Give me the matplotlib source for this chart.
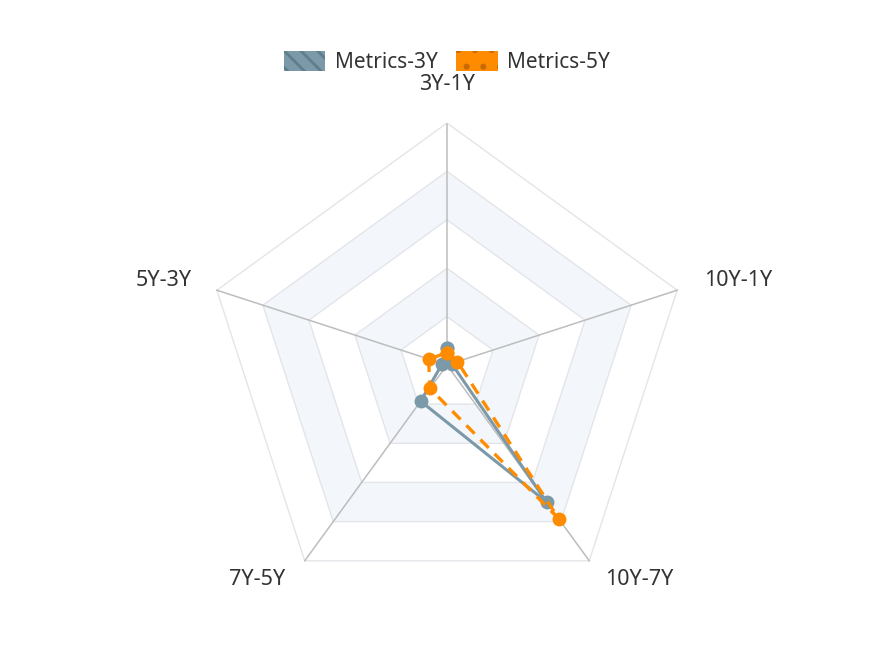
import numpy as np
import matplotlib
matplotlib.use("Agg")
from matplotlib import pyplot as plt
from matplotlib.patches import Polygon, Patch

# data
indicators = ["3Y-1Y", "10Y-1Y", "10Y-7Y", "7Y-5Y", "5Y-3Y"]
metrics_3y = [0.07, 0.02, 0.70, 0.185, 0.02]
metrics_5y = [0.05, 0.045, 0.785, 0.12, 0.08]
series_names = ["Metrics-3Y", "Metrics-5Y"]
max_val = 1.0
n_rings = 5

plt.rcParams['font.family'] = ['Noto Sans', 'DejaVu Sans']

fig = plt.figure(figsize=(8.74, 6.63), dpi=100)
# axes box so the radar centre sits at (447, 365) px with radius 242 px
ax = fig.add_axes([205 / 874, (663 - 607) / 663, 484 / 874, 484 / 663])
ax.set_xlim(-1, 1)
ax.set_ylim(-1, 1)
ax.set_aspect("equal")
ax.axis("off")

n = len(indicators)
angles = np.pi / 2 - 2 * np.pi * np.arange(n) / n   # clockwise from top
dx, dy = np.cos(angles), np.sin(angles)

# split areas (alternating bands) and split lines
band_colors = ["#ffffff", "#f3f6fa"]
for k in range(n_rings, 0, -1):
    r = k / n_rings
    col = band_colors[1] if k in (2, 4) else band_colors[0]
    ax.add_patch(Polygon(np.column_stack([r * dx, r * dy]), closed=True,
                         facecolor=col, edgecolor="#e3e5ea", lw=1.0, zorder=1))

# axis lines
for i in range(n):
    ax.plot([0, dx[i]], [0, dy[i]], color="#bdbdbd", lw=1.1, zorder=2)

# indicator labels
lab_fs = 15.5
lab_color = "#333333"
ax.text(0, 1 + 39 / 242, indicators[0], ha="center", va="center", fontsize=lab_fs, color=lab_color)
ax.text(dx[1] + 27 / 242, dy[1] + 10 / 242, indicators[1], ha="left", va="center", fontsize=lab_fs, color=lab_color)
ax.text(dx[2] + 50 / 242, dy[2] - 19 / 242, indicators[2], ha="center", va="center", fontsize=lab_fs, color=lab_color)
ax.text(dx[3] - 48 / 242, dy[3] - 19 / 242, indicators[3], ha="center", va="center", fontsize=lab_fs, color=lab_color)
ax.text(dx[4] - 25 / 242, dy[4] + 10 / 242, indicators[4], ha="right", va="center", fontsize=lab_fs, color=lab_color)

# series
blue = "#7b99a8"
orange = "#ff8c00"
v3 = np.array(metrics_3y + metrics_3y[:1]) / max_val
v5 = np.array(metrics_5y + metrics_5y[:1]) / max_val
dxc = np.append(dx, dx[0])
dyc = np.append(dy, dy[0])
ax.plot(v3 * dxc, v3 * dyc, color=blue, lw=2.2, marker="o", ms=9,
        solid_capstyle="round", zorder=4, clip_on=False)
ax.plot(v5 * dxc, v5 * dyc, color=orange, lw=2.4, ls=(0, (3.5, 2.5)), marker="o", ms=9,
        zorder=5, clip_on=False)

# legend
plt.rcParams['hatch.linewidth'] = 2.0
handles = [Patch(facecolor=blue, edgecolor="#5f7e8c", hatch="\\\\", lw=0),
           Patch(facecolor=orange, edgecolor="#c96a00", hatch=".", lw=0)]
fig.legend(handles, series_names, loc="center", bbox_to_anchor=(447 / 874, 1 - 62 / 663),
           ncol=2, frameon=False, fontsize=15, handlelength=2.0, handleheight=1.15,
           handletextpad=0.45, columnspacing=0.9, labelcolor="#333333")

fig.savefig("out.png", dpi=100)
